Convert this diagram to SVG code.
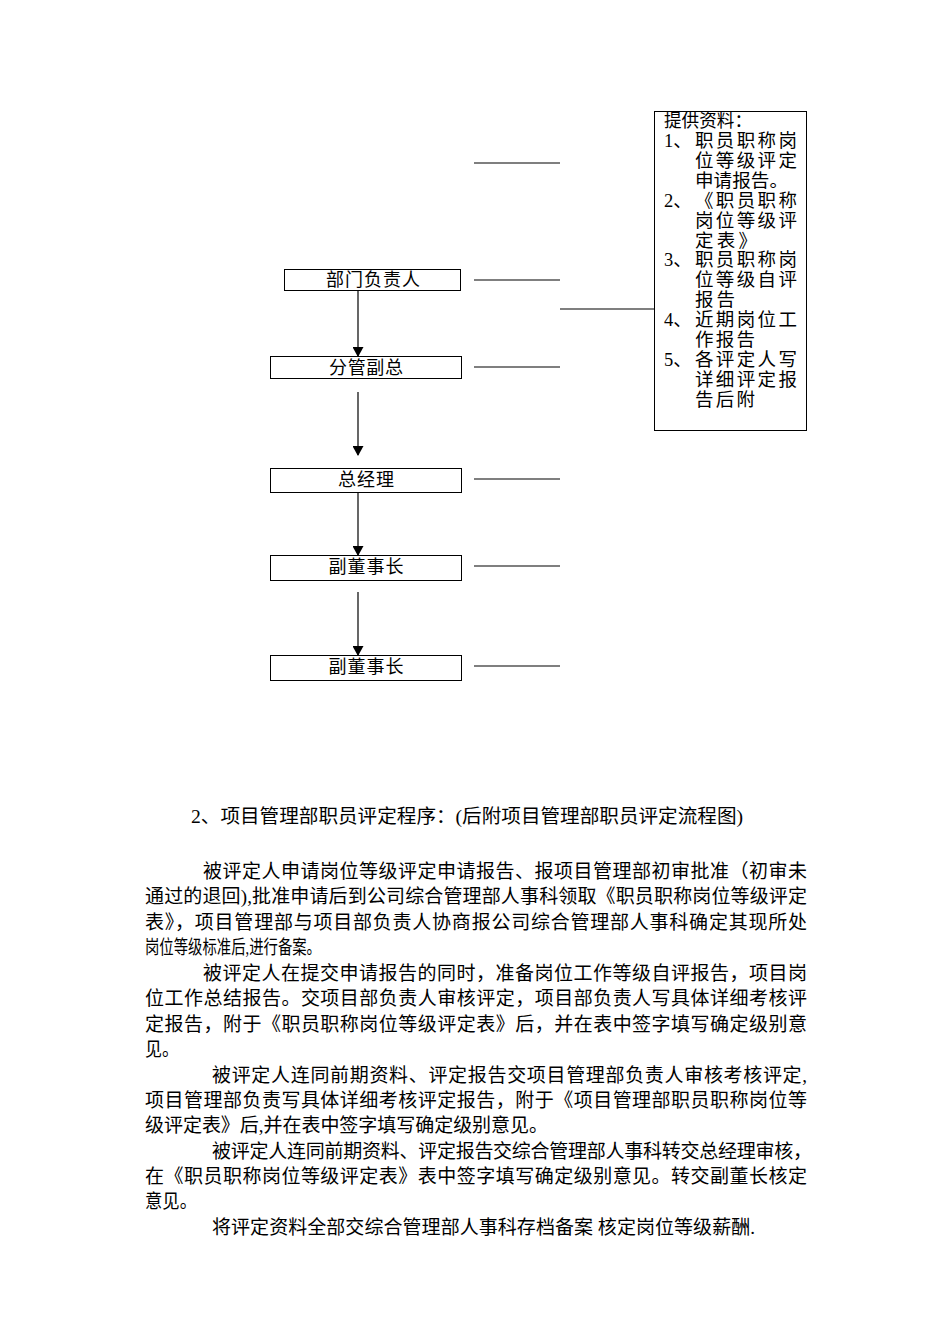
<svg xmlns="http://www.w3.org/2000/svg" width="950" height="1344" viewBox="0 0 950 1344">
<style>
.box{fill:#fff;stroke:#000;stroke-width:1}
.ln{stroke:#000;stroke-width:1.2;fill:none}
.bt{font-family:"Liberation Serif","Noto Sans CJK SC",serif;font-size:19px;fill:#000}
.nt{font-family:"Liberation Serif","Noto Sans CJK SC",serif;font-size:18px;fill:#000;text-anchor:middle}
.rt{font-family:"Liberation Serif","Noto Sans CJK SC",serif;font-size:18.5px;fill:#000}
</style>
<defs>
<marker id="ah" markerWidth="10" markerHeight="11" refX="9" refY="5.5" orient="auto" markerUnits="userSpaceOnUse">
<path d="M0,0 L10,5.5 L0,11 Z" fill="#000"/>
</marker>
</defs>
<g id="connectors">
<line class="ln" x1="358" y1="290" x2="358" y2="356" marker-end="url(#ah)"/>
<line class="ln" x1="358" y1="392" x2="358" y2="455" marker-end="url(#ah)"/>
<line class="ln" x1="358" y1="492" x2="358" y2="555" marker-end="url(#ah)"/>
<line class="ln" x1="358" y1="592" x2="358" y2="655" marker-end="url(#ah)"/>
<line class="ln" x1="474" y1="163" x2="560" y2="163"/>
<line class="ln" x1="474" y1="280" x2="560" y2="280"/>
<line class="ln" x1="474" y1="367" x2="560" y2="367"/>
<line class="ln" x1="474" y1="479" x2="560" y2="479"/>
<line class="ln" x1="474" y1="566" x2="560" y2="566"/>
<line class="ln" x1="474" y1="666" x2="560" y2="666"/>
<line class="ln" x1="560" y1="309" x2="660" y2="309"/>
</g>
<g id="n1"><rect class="box" x="284.5" y="269.5" width="176" height="21"/><text class="nt" x="373" y="286" textLength="94">部门负责人</text></g>
<g id="n2"><rect class="box" x="270.5" y="356.5" width="191" height="22"/><text class="nt" x="366" y="373.5" textLength="74">分管副总</text></g>
<g id="n3"><rect class="box" x="270.5" y="468.5" width="191" height="24"/><text class="nt" x="366" y="486" textLength="56">总经理</text></g>
<g id="n4"><rect class="box" x="270.5" y="555.5" width="191" height="25"/><text class="nt" x="366" y="573" textLength="75">副董事长</text></g>
<g id="n5"><rect class="box" x="270.5" y="655.5" width="191" height="25"/><text class="nt" x="366" y="673" textLength="75">副董事长</text></g>
<g id="info">
<rect class="box" x="654.5" y="111.5" width="152" height="319"/>
<text class="rt" x="664" y="127" textLength="88" lengthAdjust="spacingAndGlyphs">提供资料：</text>
<text class="rt" x="664" y="147">1、</text>
<text class="rt" x="695" y="147" textLength="102">职员职称岗</text>
<text class="rt" x="695" y="167" textLength="102">位等级评定</text>
<text class="rt" x="695" y="187" textLength="93" lengthAdjust="spacingAndGlyphs">申请报告。</text>
<text class="rt" x="664" y="207">2、</text>
<text class="rt" x="695" y="207" textLength="102">《职员职称</text>
<text class="rt" x="695" y="227" textLength="102">岗位等级评</text>
<text class="rt" x="695" y="247" textLength="62">定表》</text>
<text class="rt" x="664" y="266">3、</text>
<text class="rt" x="695" y="266" textLength="102">职员职称岗</text>
<text class="rt" x="695" y="286" textLength="102">位等级自评</text>
<text class="rt" x="695" y="306" textLength="40">报告</text>
<text class="rt" x="664" y="326">4、</text>
<text class="rt" x="695" y="326" textLength="102">近期岗位工</text>
<text class="rt" x="695" y="346" textLength="60">作报告</text>
<text class="rt" x="664" y="366">5、</text>
<text class="rt" x="695" y="366" textLength="102">各评定人写</text>
<text class="rt" x="695" y="386" textLength="102">详细评定报</text>
<text class="rt" x="695" y="406" textLength="60">告后附</text>
</g>
<g id="body">
<text class="bt" x="191" y="823" textLength="552" lengthAdjust="spacingAndGlyphs">2、项目管理部职员评定程序：(后附项目管理部职员评定流程图)</text>
<text class="bt" x="203" y="878" textLength="604">被评定人申请岗位等级评定申请报告、报项目管理部初审批准（初审未</text>
<text class="bt" x="145" y="903" textLength="662">通过的退回),批准申请后到公司综合管理部人事科领取《职员职称岗位等级评定</text>
<text class="bt" x="145" y="929" textLength="662">表》，项目管理部与项目部负责人协商报公司综合管理部人事科确定其现所处</text>
<text class="bt" x="145" y="954" textLength="176" lengthAdjust="spacingAndGlyphs">岗位等级标准后,进行备案。</text>
<text class="bt" x="203" y="980" textLength="604">被评定人在提交申请报告的同时，准备岗位工作等级自评报告，项目岗</text>
<text class="bt" x="145" y="1005" textLength="662">位工作总结报告。交项目部负责人审核评定，项目部负责人写具体详细考核评</text>
<text class="bt" x="145" y="1031" textLength="662">定报告，附于《职员职称岗位等级评定表》后，并在表中签字填写确定级别意</text>
<text class="bt" x="145" y="1056" textLength="34" lengthAdjust="spacingAndGlyphs">见。</text>
<text class="bt" x="212" y="1082" textLength="595">被评定人连同前期资料、评定报告交项目管理部负责人审核考核评定,</text>
<text class="bt" x="145" y="1107" textLength="662">项目管理部负责写具体详细考核评定报告，附于《项目管理部职员职称岗位等</text>
<text class="bt" x="145" y="1132" textLength="403">级评定表》后,并在表中签字填写确定级别意见。</text>
<text class="bt" x="212" y="1158" textLength="600">被评定人连同前期资料、评定报告交综合管理部人事科转交总经理审核，</text>
<text class="bt" x="145" y="1183" textLength="662">在《职员职称岗位等级评定表》表中签字填写确定级别意见。转交副董长核定</text>
<text class="bt" x="145" y="1208" textLength="52" lengthAdjust="spacingAndGlyphs">意见。</text>
<text class="bt" x="212" y="1234" textLength="543">将评定资料全部交综合管理部人事科存档备案 核定岗位等级薪酬.</text>
</g>
</svg>
